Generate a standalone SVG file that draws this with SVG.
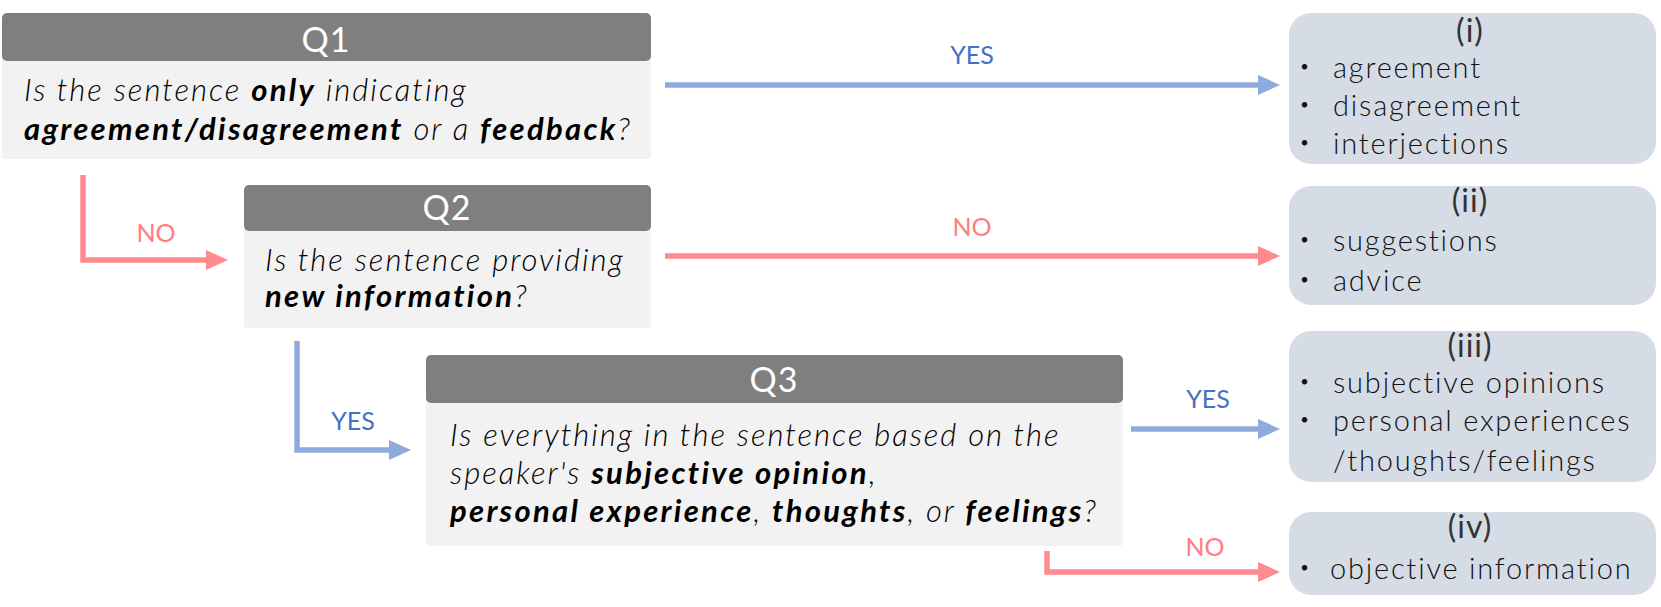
<svg xmlns="http://www.w3.org/2000/svg" width="1661" height="607" viewBox="0 0 1661 607">
<defs>
<style>
.hdr{fill:#7f7f7f}
.body{fill:#f2f2f2}
.res{fill:#d6dce5}
.ht{font-family:Lato,"Noto Sans",sans-serif;font-size:34px;fill:#ffffff;text-anchor:middle;letter-spacing:1px}
.q{font-family:Lato,"Noto Sans",sans-serif;font-size:31px;font-style:italic;font-weight:300;letter-spacing:2px;fill:#000}
.q .b{font-weight:bold;letter-spacing:2.3px}
.rt{font-family:Lato,"Noto Sans",sans-serif;font-size:29px;font-weight:300;letter-spacing:1.8px;fill:#111}
.bl{font-family:"Noto Sans CJK JP",sans-serif;letter-spacing:0}
.rh{font-family:Lato,"Noto Sans",sans-serif;font-size:32px;fill:#333;text-anchor:middle;letter-spacing:1px}
.yes{font-family:Lato,"Noto Sans",sans-serif;font-size:25px;fill:#4472c4;text-anchor:middle}
.no{font-family:Lato,"Noto Sans",sans-serif;font-size:25px;fill:#ff7c80;text-anchor:middle}
.ab{fill:none;stroke:#8faadc;stroke-width:5.5}
.ar{fill:none;stroke:#ff8b8f;stroke-width:5.5}
</style>
<marker id="mb" markerUnits="userSpaceOnUse" markerWidth="24" markerHeight="24" viewBox="0 0 24 24" refX="4" refY="12" orient="auto"><path d="M0,2 L22,12 L0,22 Z" fill="#8faadc"/></marker>
<marker id="mr" markerUnits="userSpaceOnUse" markerWidth="24" markerHeight="24" viewBox="0 0 24 24" refX="4" refY="12" orient="auto"><path d="M0,2 L22,12 L0,22 Z" fill="#ff8b8f"/></marker>
</defs>
<rect width="1661" height="607" fill="#ffffff"/>
<g id="q1">
<rect class="body" x="2" y="40" width="649" height="119" rx="4"/>
<rect class="hdr" x="2" y="13" width="649" height="48" rx="5"/>
<text class="ht" x="326" y="52">Q1</text>
<text class="q" x="24" y="101">Is the sentence <tspan class="b">only</tspan> indicating</text>
<text class="q" x="24" y="140"><tspan class="b">agreement/disagreement</tspan> or a <tspan class="b">feedback</tspan>?</text>
</g>
<g id="q2">
<rect class="body" x="244" y="210" width="407" height="118" rx="4"/>
<rect class="hdr" x="244" y="185" width="407" height="46" rx="5"/>
<text class="ht" x="447" y="220">Q2</text>
<text class="q" x="265" y="271">Is the sentence providing</text>
<text class="q" x="265" y="307"><tspan class="b">new information</tspan>?</text>
</g>
<g id="q3">
<rect class="body" x="426" y="380" width="697" height="166" rx="4"/>
<rect class="hdr" x="426" y="355" width="697" height="48" rx="5"/>
<text class="ht" x="774" y="392">Q3</text>
<text class="q" x="450" y="446">Is everything in the sentence based on the</text>
<text class="q" x="450" y="484">speaker's <tspan class="b">subjective opinion</tspan>,</text>
<text class="q" x="450" y="522"><tspan class="b">personal experience</tspan>, <tspan class="b">thoughts</tspan>, or <tspan class="b">feelings</tspan>?</text>
</g>
<g id="r1">
<rect class="res" x="1289" y="13" width="367" height="151" rx="22"/>
<text class="rh" x="1470" y="42">(i)</text>
<text class="rt" x="1290" y="78"><tspan class="bl">・</tspan><tspan x="1333">agreement</tspan></text>
<text class="rt" x="1290" y="116"><tspan class="bl">・</tspan><tspan x="1333">disagreement</tspan></text>
<text class="rt" x="1290" y="154"><tspan class="bl">・</tspan><tspan x="1333">interjections</tspan></text>
</g>
<g id="r2">
<rect class="res" x="1289" y="186" width="367" height="119" rx="22"/>
<text class="rh" x="1470" y="212">(ii)</text>
<text class="rt" x="1290" y="251"><tspan class="bl">・</tspan><tspan x="1333">suggestions</tspan></text>
<text class="rt" x="1290" y="291"><tspan class="bl">・</tspan><tspan x="1333">advice</tspan></text>
</g>
<g id="r3">
<rect class="res" x="1289" y="331" width="367" height="151" rx="22"/>
<text class="rh" x="1470" y="357">(iii)</text>
<text class="rt" x="1290" y="393"><tspan class="bl">・</tspan><tspan x="1333">subjective opinions</tspan></text>
<text class="rt" x="1290" y="431"><tspan class="bl">・</tspan><tspan x="1333">personal experiences</tspan></text>
<text class="rt" x="1333" y="471">/thoughts/feelings</text>
</g>
<g id="r4">
<rect class="res" x="1289" y="512" width="367" height="83" rx="22"/>
<text class="rh" x="1470" y="538">(iv)</text>
<text class="rt" x="1290" y="579"><tspan class="bl">・</tspan><tspan x="1330">objective information</tspan></text>
</g>
<g id="connectors">
<path class="ab" d="M665,85 H1262" marker-end="url(#mb)"/>
<text class="yes" x="972" y="64">YES</text>
<path class="ar" d="M83,175 V260 H210" marker-end="url(#mr)"/>
<text class="no" x="156" y="242">NO</text>
<path class="ar" d="M665,256 H1262" marker-end="url(#mr)"/>
<text class="no" x="972" y="236">NO</text>
<path class="ab" d="M297,341 V450 H393" marker-end="url(#mb)"/>
<text class="yes" x="353" y="430">YES</text>
<path class="ab" d="M1131,429 H1262" marker-end="url(#mb)"/>
<text class="yes" x="1208" y="408">YES</text>
<path class="ar" d="M1047,551 V572 H1262" marker-end="url(#mr)"/>
<text class="no" x="1205" y="556">NO</text>
</g>
</svg>
